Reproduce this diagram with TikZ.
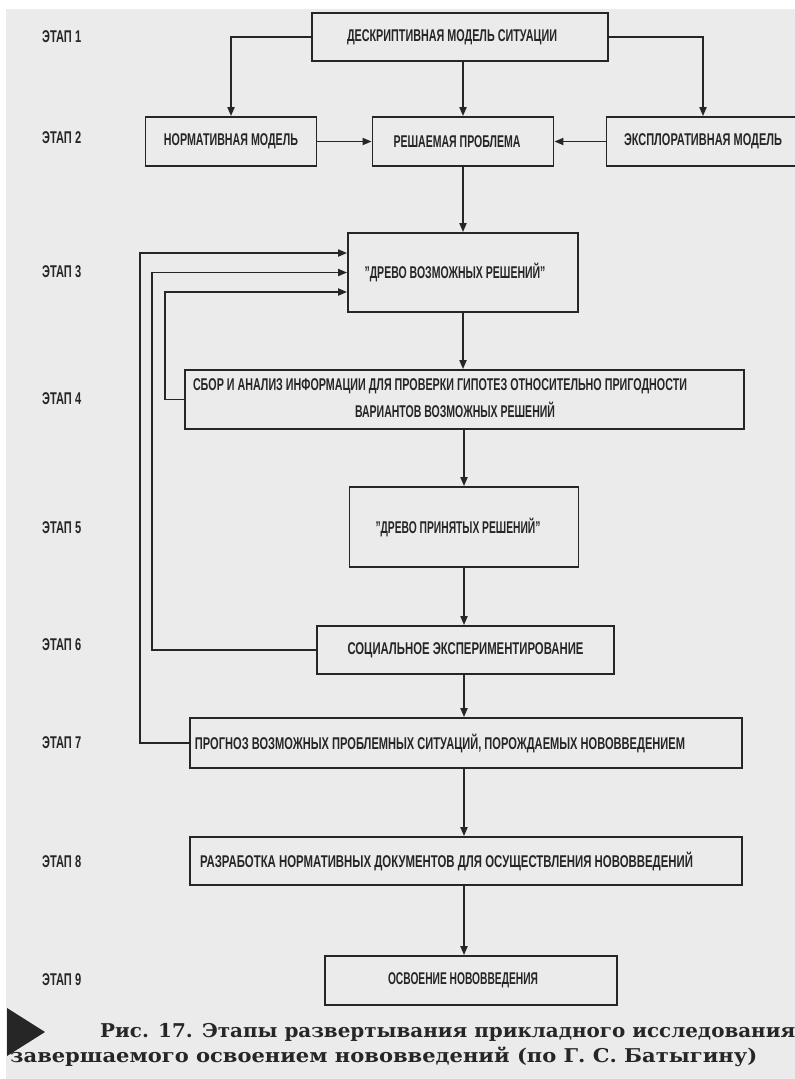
\documentclass[tikz,border=0pt]{standalone}
\usepackage{fontspec}
\setmainfont{Liberation Sans}
\newfontfamily\capfont{DejaVu Serif}
\usetikzlibrary{arrows.meta}
\definecolor{bg}{HTML}{EBEBEB}
\definecolor{ink}{HTML}{262626}
\newcommand\tx[2]{\resizebox{#1pt}{\height}{\fontsize{17}{18}\selectfont\bfseries #2}}
\newcommand\cpt[2]{\resizebox{#1pt}{\height}{\capfont\bfseries\fontsize{19}{22}\selectfont #2}}
\begin{document}
\begin{tikzpicture}[x=1pt,y=-1pt,
  box/.style={draw=ink, line width=1.8pt, inner sep=0pt, text=ink},
  arr/.style={draw=ink, line width=1.8pt, -{Triangle[length=9pt,width=7pt]}},
  lbl/.style={anchor=west, inner sep=0pt, text=ink}]
\useasboundingbox (0,0) rectangle (795,1079);
\fill[bg] (6,9) rectangle (795,1079);

% stage labels
\node[lbl] (s1) at (42,37) {\tx{39}{ЭТАП 1}};
\node[lbl] (s2) at (42,138) {\tx{39}{ЭТАП 2}};
\node[lbl] (s3) at (42,272) {\tx{39}{ЭТАП 3}};
\node[lbl] (s4) at (42,399) {\tx{39}{ЭТАП 4}};
\node[lbl] (s5) at (42,528) {\tx{39}{ЭТАП 5}};
\node[lbl] (s6) at (42,645) {\tx{39}{ЭТАП 6}};
\node[lbl] (s7) at (42,743) {\tx{39}{ЭТАП 7}};
\node[lbl] (s8) at (42,862) {\tx{39}{ЭТАП 8}};
\node[lbl] (s9) at (42,980) {\tx{39}{ЭТАП 9}};

% boxes
\node[box, minimum width=296pt, minimum height=48pt] (b1) at (460,37)
  {\tx{210}{ДЕСКРИПТИВНАЯ МОДЕЛЬ СИТУАЦИИ}\hspace*{16pt}};
\node[box, minimum width=171pt, minimum height=49pt] (b2n) at (231,141.5)
  {\tx{134}{НОРМАТИВНАЯ МОДЕЛЬ}};
\node[box, minimum width=181pt, minimum height=49pt] (b2p) at (463,141.5)
  {\tx{127}{РЕШАЕМАЯ ПРОБЛЕМА}\hspace*{12pt}};
\node[box, minimum width=193pt, minimum height=49pt] (b2e) at (703,141.5)
  {\tx{158}{ЭКСПЛОРАТИВНАЯ МОДЕЛЬ}};
\node[box, minimum width=230pt, minimum height=79pt] (b3) at (463,272.5)
  {\tx{181}{"ДРЕВО ВОЗМОЖНЫХ РЕШЕНИЙ"}\hspace*{16pt}};
\node[box, minimum width=559pt, minimum height=59pt] (b4) at (464.5,399.5)
  {\begin{tabular}{@{}c@{}}\tx{494}{СБОР И АНАЛИЗ ИНФОРМАЦИИ ДЛЯ ПРОВЕРКИ ГИПОТЕЗ ОТНОСИТЕЛЬНО ПРИГОДНОСТИ}\\[8pt]
   \hspace*{30pt}\tx{200}{ВАРИАНТОВ ВОЗМОЖНЫХ РЕШЕНИЙ}\end{tabular}\hspace*{49pt}};
\node[box, minimum width=229pt, minimum height=80pt] (b5) at (464,527)
  {\tx{165}{"ДРЕВО ПРИНЯТЫХ РЕШЕНИЙ"}\hspace*{12pt}};
\node[box, minimum width=297pt, minimum height=48pt] (b6) at (465.5,650)
  {\tx{236}{СОЦИАЛЬНОЕ ЭКСПЕРИМЕНТИРОВАНИЕ}};
\node[box, minimum width=552pt, minimum height=50pt] (b7) at (466,743)
  {\tx{490}{ПРОГНОЗ ВОЗМОЖНЫХ ПРОБЛЕМНЫХ СИТУАЦИЙ, ПОРОЖДАЕМЫХ НОВОВВЕДЕНИЕМ}\hspace*{52pt}};
\node[box, minimum width=552pt, minimum height=48pt] (b8) at (466,861)
  {\tx{493}{РАЗРАБОТКА НОРМАТИВНЫХ ДОКУМЕНТОВ ДЛЯ ОСУЩЕСТВЛЕНИЯ НОВОВВЕДЕНИЙ}\hspace*{39pt}};
\node[box, minimum width=292pt, minimum height=49pt] (b9) at (471,980.5)
  {\tx{150}{ОСВОЕНИЕ НОВОВВЕДЕНИЯ}\hspace*{16pt}};

% connectors
\draw[arr] (b1.west) -| (b2n.north);
\draw[arr] (b1.east) -| (b2e.north);
\draw[arr] (b1.south -| b2p.north) -- (b2p.north);
\draw[arr] (b2n) -- (b2p);
\draw[arr] (b2e) -- (b2p);
\draw[arr] (b2p) -- (b2p |- b3.north);
\draw[arr] (b3) -- (b3 |- b4.north);
\draw[arr] (b4.south -| b5.north) -- (b5.north);
\draw[arr] (b5) -- (b5 |- b6.north);
\draw[arr] (b6.south -| b5.north) -- (b5.north |- b7.north);
\draw[arr] (b7.south -| b5.north) -- (b5.north |- b8.north);
\draw[arr] (b8.south -| b5.north) -- ([xshift=-7pt]b9.north);

% feedback loops
\draw[arr] (b7.west) -- ++(-49,0) |- ([yshift=19.5pt]b3.west);
\draw[arr] (b6.west) -- ++(-164.5,0) |- (b3.west);
\draw[arr] (b4.west) -- ++(-19,0) |- ([yshift=-19.5pt]b3.west);

% caption
\fill[ink] (7,1008) -- (45,1032) -- (7,1056) -- cycle;
\node[anchor=base west, inner sep=0pt, text=ink] (cap1) at (100,1037)
  {\cpt{695}{Рис. 17. Этапы развертывания прикладного исследования}};
\node[anchor=base west, inner sep=0pt, text=ink] (cap2) at (10,1062)
  {\cpt{747}{завершаемого освоением нововведений (по Г. С. Батыгину)}};
\end{tikzpicture}
\end{document}
